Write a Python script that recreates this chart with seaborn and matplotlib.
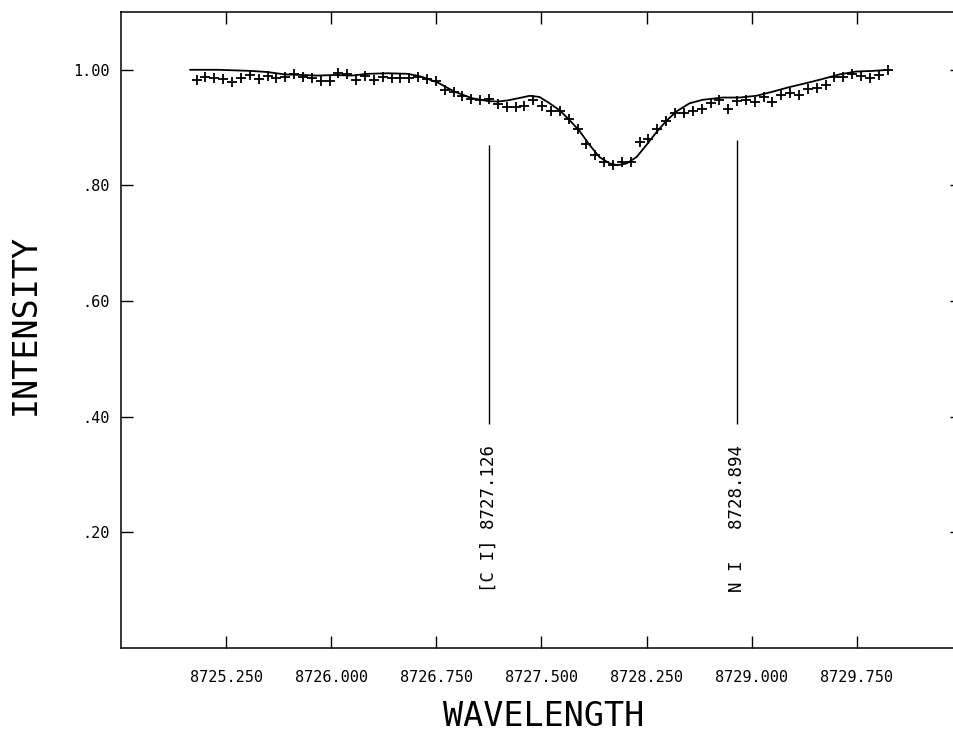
import matplotlib
matplotlib.use("Agg")
import matplotlib.pyplot as plt
import seaborn as sns

# Observed spectrum (plotted as crosses)
obs_wave = [
    8725.040, 8725.103, 8725.166, 8725.230, 8725.293, 8725.356, 8725.419, 8725.482,
    8725.546, 8725.609, 8725.672, 8725.735, 8725.798, 8725.862, 8725.925, 8725.988,
    8726.051, 8726.114, 8726.178, 8726.241, 8726.304, 8726.367, 8726.430, 8726.494,
    8726.557, 8726.620, 8726.683, 8726.746, 8726.810, 8726.873, 8726.936, 8726.999,
    8727.062, 8727.126, 8727.189, 8727.252, 8727.315, 8727.378, 8727.442, 8727.505,
    8727.568, 8727.631, 8727.694, 8727.758, 8727.821, 8727.884, 8727.947, 8728.010,
    8728.074, 8728.137, 8728.200, 8728.263, 8728.326, 8728.390, 8728.453, 8728.516,
    8728.579, 8728.642, 8728.706, 8728.769, 8728.832, 8728.895, 8728.958, 8729.022,
    8729.085, 8729.148, 8729.211, 8729.274, 8729.338, 8729.401, 8729.464, 8729.527,
    8729.590, 8729.654, 8729.717, 8729.780, 8729.843, 8729.906, 8729.970,
]
obs_int = [
    0.982, 0.988, 0.985, 0.984, 0.979, 0.986, 0.991, 0.984, 0.990, 0.986,
    0.987, 0.993, 0.987, 0.986, 0.981, 0.981, 0.995, 0.993, 0.983, 0.990,
    0.982, 0.987, 0.986, 0.986, 0.986, 0.988, 0.984, 0.981, 0.965, 0.961,
    0.955, 0.949, 0.948, 0.949, 0.940, 0.935, 0.936, 0.938, 0.947, 0.937,
    0.929, 0.929, 0.915, 0.897, 0.872, 0.853, 0.841, 0.835, 0.841, 0.841,
    0.875, 0.880, 0.897, 0.912, 0.925, 0.925, 0.928, 0.933, 0.942, 0.948,
    0.932, 0.946, 0.948, 0.944, 0.953, 0.944, 0.956, 0.960, 0.956, 0.966,
    0.968, 0.974, 0.987, 0.987, 0.993, 0.990, 0.985, 0.991, 1.000,
]

# Synthetic (fitted) spectrum (plotted as a solid line)
fit_wave = [
    8724.992, 8725.191, 8725.434, 8725.548, 8725.669, 8725.790, 8725.904, 8726.025,
    8726.146, 8726.260, 8726.403, 8726.546, 8726.645, 8726.759, 8726.881, 8727.002,
    8727.116, 8727.187, 8727.258, 8727.358, 8727.415, 8727.486, 8727.558, 8727.629,
    8727.700, 8727.772, 8727.843, 8727.914, 8727.986, 8728.043, 8728.107, 8728.178,
    8728.249, 8728.320, 8728.392, 8728.463, 8728.556, 8728.648, 8728.791, 8728.912,
    8729.033, 8729.147, 8729.268, 8729.390, 8729.504, 8729.625, 8729.746, 8729.860,
    8729.981,
]
fit_int = [
    1.000, 1.000, 0.998, 0.996, 0.992, 0.991, 0.990, 0.991,
    0.990, 0.993, 0.994, 0.993, 0.988, 0.978, 0.962, 0.951,
    0.946, 0.945, 0.947, 0.952, 0.955, 0.953, 0.942, 0.930,
    0.913, 0.894, 0.870, 0.849, 0.838, 0.835, 0.838, 0.849,
    0.870, 0.892, 0.912, 0.928, 0.942, 0.948, 0.952, 0.952,
    0.955, 0.962, 0.970, 0.977, 0.984, 0.992, 0.997, 0.998,
    1.000,
]

# Line identifications
line_ids = ["[C I]", "N I"]
line_waves = [8727.126, 8728.894]
line_tops = [0.870, 0.878]
line_bottom = 0.388
label_base = 0.096

xtick_vals = [8725.25, 8726.00, 8726.75, 8727.50, 8728.25, 8729.00, 8729.75]
ytick_vals = [0.20, 0.40, 0.60, 0.80, 1.00]
ytick_text = [".20", ".40", ".60", ".80", "1.00"]

sns.set_theme(style="ticks")
plt.rcParams["font.family"] = ["DejaVu Sans Mono", "DejaVu Sans"]
plt.rcParams["text.color"] = "black"
plt.rcParams["axes.labelcolor"] = "black"

fig = plt.figure(figsize=(9.54, 7.34), dpi=100)
# the frame runs past the right edge of the sheet, as on the plotter output
ax = fig.add_axes([0.1268, 0.1172, 0.8816, 0.8665])

sns.lineplot(x=fit_wave, y=fit_int, ax=ax, color="black", linewidth=1.3,
             estimator=None, sort=False)
sns.scatterplot(x=obs_wave, y=obs_int, ax=ax, marker="+", s=55,
                color="black", linewidth=1.3)

ax.vlines(line_waves, [line_bottom] * len(line_waves), line_tops,
          colors="black", linewidth=1.0)
for name, wave in zip(line_ids, line_waves):
    ax.text(wave, label_base, f"{name:<5} {wave:.3f}", rotation=90,
            ha="center", va="bottom", fontsize=12.5, color="black")

ax.set_xlim(8724.5, 8730.5)
ax.set_ylim(0.0, 1.1)
ax.set_xticks(xtick_vals)
ax.set_xticklabels([f"{v:.3f}" for v in xtick_vals])
ax.set_yticks(ytick_vals)
ax.set_yticklabels(ytick_text)

ax.tick_params(axis="both", direction="in", length=8.5, width=1.0,
               top=True, right=True, labelsize=11, colors="black")
ax.tick_params(axis="x", pad=16)
ax.tick_params(axis="y", pad=8)
for side, sp in ax.spines.items():
    sp.set_visible(side != "right")
    sp.set_linewidth(1.1)
    sp.set_color("black")

ax.set_xlabel("WAVELENGTH", fontsize=24, va="baseline", ha="center",
              color="black")
ax.xaxis.set_label_coords(0.503, -0.122)
ax.set_ylabel("INTENSITY", fontsize=24, va="center", ha="center",
              color="black")
ax.yaxis.set_label_coords(-0.1136, 0.509)

fig.savefig("out.png", dpi=100)
